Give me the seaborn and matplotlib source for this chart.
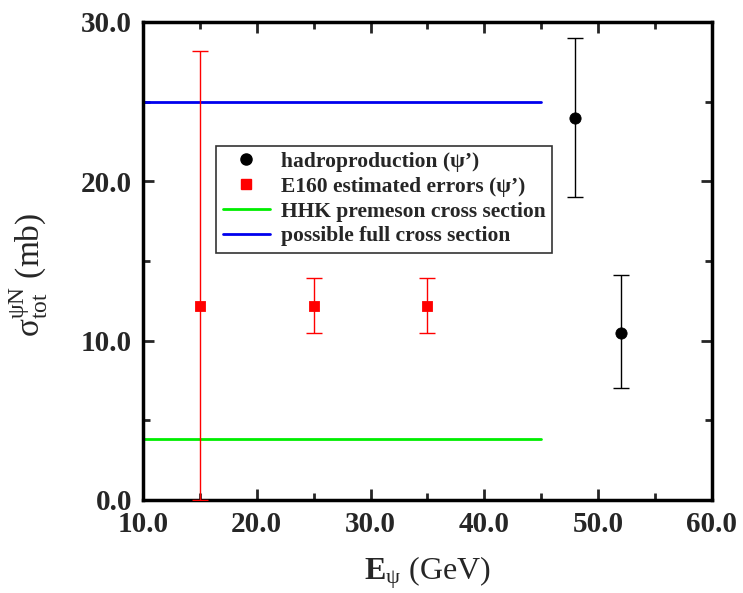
import matplotlib
matplotlib.use("Agg")
import matplotlib.pyplot as plt
import seaborn as sns
import numpy as np
from matplotlib.lines import Line2D
from matplotlib.ticker import MultipleLocator, FormatStrFormatter

sns.set_theme(style="white")
plt.rcParams['font.family'] = ['Liberation Serif', 'DejaVu Serif']
plt.rcParams['mathtext.fontset'] = 'custom'
plt.rcParams['mathtext.rm'] = 'Liberation Serif'
plt.rcParams['mathtext.it'] = 'Liberation Serif:italic'
plt.rcParams['mathtext.bf'] = 'Liberation Serif:bold'

# data
had_x = [48, 52]
had_y = [24.0, 10.5]
had_lo = [5.0, 3.5]
had_hi = [5.0, 3.6]

e160_x = [15, 25, 35]
e160_y = [12.2, 12.2, 12.2]
e160_lo = [12.2, 1.7, 1.7]
e160_hi = [16.0, 1.7, 1.7]

line_x = [10, 45]
hhk_y = [3.8, 3.8]
full_y = [25.0, 25.0]

labels = ["hadroproduction (ψ’)", "E160 estimated errors (ψ’)",
          "HHK premeson cross section", "possible full cross section"]

fig = plt.figure(figsize=(7.43, 5.93), dpi=100)
ax = fig.add_axes([0.1925, 0.157, 0.7655, 0.806])

sns.lineplot(x=line_x, y=hhk_y, color="#00ee00", lw=2, ax=ax)
sns.lineplot(x=line_x, y=full_y, color="#0000ee", lw=2, ax=ax)

ax.errorbar(e160_x, e160_y, yerr=[e160_lo, e160_hi], fmt="none", ecolor="red",
            elinewidth=1, capsize=6, capthick=1, zorder=3)
sns.scatterplot(x=e160_x, y=e160_y, marker="s", color="red", s=55,
                edgecolor="red", ax=ax, zorder=4)
ax.errorbar(had_x, had_y, yerr=[had_lo, had_hi], fmt="none", ecolor="black",
            elinewidth=1, capsize=6, capthick=1, zorder=3)
sns.scatterplot(x=had_x, y=had_y, marker="o", color="black", s=65,
                edgecolor="black", ax=ax, zorder=4)

ax.set_xlim(10, 60)
ax.set_ylim(0, 30)
ax.xaxis.set_major_locator(MultipleLocator(10))
ax.xaxis.set_minor_locator(MultipleLocator(5))
ax.yaxis.set_major_locator(MultipleLocator(10))
ax.yaxis.set_minor_locator(MultipleLocator(5))
ax.xaxis.set_major_formatter(FormatStrFormatter("%.1f"))
ax.yaxis.set_major_formatter(FormatStrFormatter("%.1f"))
ax.tick_params(which="both", direction="in", top=True, right=True,
               bottom=True, left=True, width=2)
ax.tick_params(which="major", length=8, labelsize=21, pad=8)
ax.tick_params(which="minor", length=5)
for lab in ax.get_xticklabels() + ax.get_yticklabels():
    lab.set_fontweight("bold")
for sp in ax.spines.values():
    sp.set_linewidth(2.5)
    sp.set_color("black")

ax.set_xlabel(r"$\mathbf{E}_{\mathrm{ψ}}$ (GeV)", fontsize=23, labelpad=12)
ax.set_ylabel(r"$\mathrm{σ}_{\mathrm{tot}}^{\mathrm{ψN}}$ (mb)", fontsize=24)
ax.yaxis.set_label_coords(-0.163, 0.47)

handles = [
    Line2D([], [], marker="o", color="black", ls="none", markersize=8),
    Line2D([], [], marker="s", color="red", ls="none", markersize=7),
    Line2D([], [], color="#00ee00", lw=2),
    Line2D([], [], color="#0000ee", lw=2),
]
leg = ax.legend(handles, labels, loc="upper left", bbox_to_anchor=(0.110, 0.764),
                frameon=True, fancybox=False, edgecolor="black",
                prop={"weight": "bold", "size": 15.5}, handlelength=2.2,
                borderpad=0.3, labelspacing=0.22, handletextpad=0.5,
                markerfirst=True)
leg.get_frame().set_linewidth(1.2)

fig.savefig("out.png", dpi=100)
